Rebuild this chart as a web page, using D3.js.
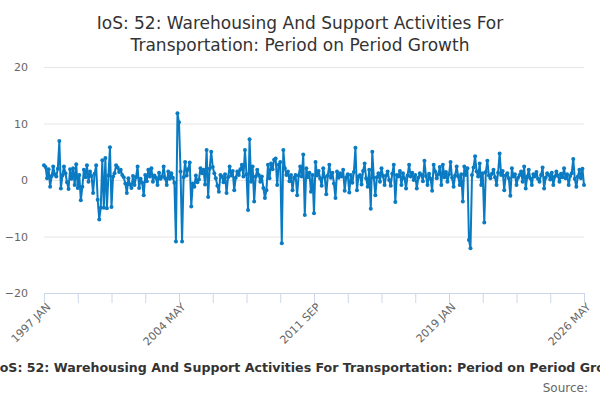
<!DOCTYPE html>
<html>
<head>
<meta charset="utf-8">
<script src="https://cdn.jsdelivr.net/npm/d3@7"></script>
<style>
  body { margin: 0; background: #fff; }
  text { font-family: "DejaVu Sans", sans-serif; }
</style>
</head>
<body>
<svg id="chart" width="600" height="400"></svg>
<script>
const titleLines = ['IoS: 52: Warehousing And Support Activities For', 'Transportation: Period on Period Growth'];
const footerText = 'IoS: 52: Warehousing And Support Activities For Transportation: Period on Period Growth';
const monthNames = ['JAN', 'FEB', 'MAR', 'APR', 'MAY', 'JUN', 'JUL', 'AUG', 'SEP', 'OCT', 'NOV', 'DEC'];
const tickLabels = ['1997 JAN', '2004 MAY', '2011 SEP', '2019 JAN', '2026 MAY'];
const yTicks = [-20, -10, 0, 10, 20];

// monthly growth, one row per year, 1997 JAN .. 2026 MAY
const growth = [
  2.6, 2.3, 0.3, 1.9, -1.2, 0.7, 2.4, 1.0, 0.6, 2.0, 6.9, -1.5,
  0.8, 2.4, 1.2, -0.4, -1.6, 1.9, 0.2, 2.1, -0.9, 2.8, -1.4, 0.9,
  -3.6, -1.2, 1.8, 0.5, 2.6, -0.3, 1.5, 0.7, -2.3, 1.1, 2.6, -3.5,
  -7.0, -4.9, 3.5, -4.9, 3.9, -5.0, 0.8, 5.8, -4.8, 0.6, 1.2, 2.6,
  2.2, 1.4, 1.8, 0.9, 0.5, -0.6, -2.3, 0.3, -0.8, -1.4, 0.7, -0.9,
  0.5, 2.4, -1.4, 0.2, -0.5, -2.7, 0.9, -0.2, 1.8, 0.6, 2.1, -0.3,
  0.8, 0.4, -0.9, 1.3, 0.2, 0.6, 2.4, 0.3, -0.9, 1.5, 0.2, 1.2,
  0.4, -0.5, -10.9, 11.8, 10.2, 1.5, -10.9, 0.5, 3.2, 0.8, 1.9, 3.1,
  -4.7, -0.6, -1.2, 0.8, -0.4, 0.1, 2.1, 1.2, 1.8, -0.8, 5.3, -3.0,
  2.0, 5.0, 2.3, 1.2, 0.3, -1.0, -2.1, 0.9, 0.6, -0.4, 1.0, -2.3,
  0.5, 2.4, 0.8, 1.6, -1.8, 0.4, 1.5, 0.9, 1.9, 2.7, 0.6, 5.3,
  1.0, -5.3, 7.2, -0.3, 2.4, -3.8, 0.6, 1.8, 0.9, -0.3, 0.6, -1.4,
  -3.2, -1.8, 2.7, 0.3, 2.9, 1.9, 3.6, 3.8, -0.9, 2.7, 3.2, -11.2,
  5.3, 2.1, 0.9, 1.5, -0.2, 0.9, -1.8, 0.4, 0.9, -2.7, 0.8, 2.4,
  0.6, 4.5, -6.2, 2.1, 0.5, 1.3, -2.1, 0.9, -5.9, 3.2, 0.8, 1.6,
  0.3, -1.0, 2.1, 0.5, -2.5, 0.8, 2.7, 0.4, 1.3, -0.6, -3.2, 1.5,
  0.4, 1.2, 0.6, 1.8, -1.9, 0.5, 1.0, -2.2, 0.9, -0.5, 1.4, 5.7,
  -1.8, 0.6, 0.9, -0.8, 1.6, 2.9, 0.3, -1.2, 1.8, -5.1, 5.0, 0.4,
  -2.7, 0.5, 1.2, -0.3, 2.1, 0.7, -0.9, 0.8, 1.5, 0.0, -1.0, 1.1,
  2.7, -3.9, 0.9, 0.6, 1.6, -0.9, 1.2, 0.3, -1.5, 0.8, 2.7, 0.6,
  1.3, 0.0, 0.9, -1.5, 0.4, 1.2, 0.9, -0.2, 3.4, 0.7, -0.9, 1.1,
  0.2, -1.9, 2.7, 1.5, 0.3, 1.0, 2.3, -0.9, 2.7, 0.5, 1.4, -0.3,
  1.0, 3.2, 0.4, -1.2, 0.8, 2.4, 0.6, -0.9, 1.0, -3.8, 2.4, 0.9,
  2.1, -10.6, -12.1, 0.9, 2.2, 4.2, 1.5, 0.6, 2.9, -0.9, 1.2, -7.5,
  1.4, 3.4, 0.8, 0.3, 1.1, 1.8, 0.5, -0.9, 1.3, 4.7, 0.9, 1.6,
  -1.8, 0.8, 1.2, 0.3, -2.8, 2.1, 0.6, 1.0, -0.9, 0.4, 0.9, 1.5,
  -0.3, 2.4, -1.5, 0.6, 1.8, 0.3, -0.9, 1.0, 0.6, 1.4, 0.2, -0.3,
  0.9, 2.2, -1.5, 0.4, 1.2, 0.9, 0.1, 1.3, -0.9, 0.6, 1.5, 0.8,
  -0.3, 1.1, 0.5, 2.1, 0.3, 1.0, -0.9, 0.7, 1.2, 3.7, 0.2, -1.2,
  0.6, 1.8, 0.3, 2.0, -0.9
];

const months = growth.map((d, i) => `${1997 + Math.floor(i / 12)} ${monthNames[i % 12]}`);
const data = growth.map((v, i) => ({ month: months[i], value: v }));

const svg = d3.select('#chart');
const margin = { top: 67, right: 16, bottom: 107, left: 44 };
const width = 600;
const height = 400;

const x = d3.scalePoint()
  .domain(months)
  .range([margin.left, width - margin.right]);

const y = d3.scaleLinear()
  .domain([-20, 20])
  .range([height - margin.bottom, margin.top]);

// title
svg.append('g')
  .selectAll('text')
  .data(titleLines)
  .join('text')
    .attr('x', width / 2)
    .attr('y', (d, i) => 29 + i * 22)
    .attr('text-anchor', 'middle')
    .attr('font-size', 17)
    .attr('fill', '#333')
    .text(d => d);

// y grid + labels
const yAxis = g => g
  .attr('transform', `translate(${margin.left},0)`)
  .call(d3.axisLeft(y).tickValues(yTicks).tickSize(-(width - margin.left - margin.right)).tickPadding(16))
  .call(g => g.select('.domain').remove())
  .call(g => g.selectAll('.tick line').attr('stroke', '#e6e6e6'))
  .call(g => g.selectAll('.tick text').attr('fill', '#666').attr('font-size', 11)
    .attr('font-family', '"DejaVu Sans", sans-serif'));

svg.append('g').call(yAxis);

// x axis, a tick every 22 months
const xAxis = g => g
  .attr('transform', `translate(0,${height - margin.bottom})`)
  .call(d3.axisBottom(x)
    .tickValues(months.filter((d, i) => i % 22 === 0))
    .tickFormat(d => tickLabels.includes(d) ? d : '')
    .tickSize(10)
    .tickSizeOuter(0))
  .call(g => g.select('.domain').attr('stroke', '#ccd6eb'))
  .call(g => g.selectAll('.tick line').attr('stroke', '#ccd6eb'))
  .call(g => g.selectAll('.tick text')
    .attr('fill', '#666')
    .attr('font-size', 11)
    .attr('font-family', '"DejaVu Sans", sans-serif')
    .attr('text-anchor', 'end')
    .attr('transform', 'translate(4,12) rotate(-45)')
    .attr('dy', '0.35em')
    .attr('y', 0));

svg.append('g').call(xAxis);

// series
const line = d3.line()
  .x(d => x(d.month))
  .y(d => y(d.value));

svg.append('path')
  .datum(data)
  .attr('fill', 'none')
  .attr('stroke', '#0a7bc2')
  .attr('stroke-width', 2)
  .attr('stroke-linejoin', 'round')
  .attr('d', line);

svg.append('g')
  .attr('fill', '#0a7bc2')
  .selectAll('circle')
  .data(data)
  .join('circle')
    .attr('cx', d => x(d.month))
    .attr('cy', d => y(d.value))
    .attr('r', 2);

// footer (wider than the frame, cut at both edges as in the original)
svg.append('text')
  .attr('x', -5)
  .attr('y', 372)
  .attr('font-size', 12.6)
  .attr('font-weight', 'bold')
  .attr('fill', '#333')
  .text(footerText);

svg.append('text')
  .attr('x', 588)
  .attr('y', 392)
  .attr('text-anchor', 'end')
  .attr('font-size', 12)
  .attr('fill', '#666')
  .text('Source:');
</script>
</body>
</html>
